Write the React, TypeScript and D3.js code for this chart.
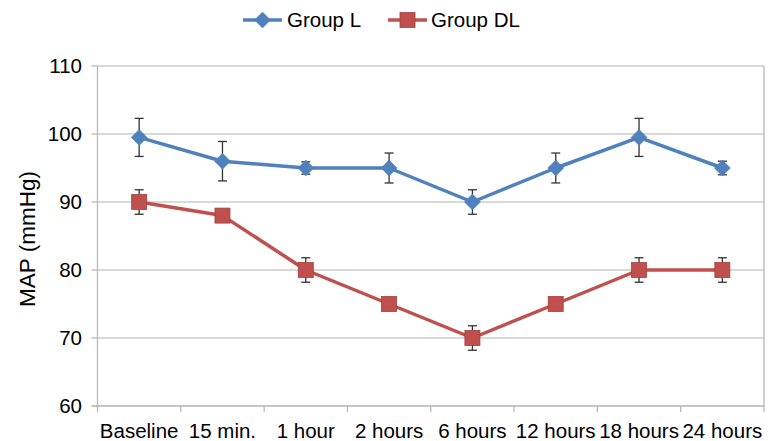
import React from "react";
import * as d3 from "d3";

const categories = ["Baseline", "15 min.", "1 hour", "2 hours", "6 hours", "12 hours", "18 hours", "24 hours"];
const groupL = [99.5, 96, 95, 95, 90, 95, 99.5, 95];
const groupLErr = [2.8, 2.9, 0.9, 2.2, 1.8, 2.2, 2.8, 1.0];
const groupDL = [90, 88, 80, 75, 70, 75, 80, 80];
const groupDLErr = [1.8, 0, 1.8, 0.8, 1.8, 0.8, 1.8, 1.8];
const yTicks = [60, 70, 80, 90, 100, 110];

const W = 768, H = 441;
const left = 97.5, right = 764, top = 66, bottom = 406;
const font = "Arimo, 'Liberation Sans', Arial, sans-serif";

export default function App() {
  const x = d3.scaleBand<string>().domain(categories).range([left, right]).padding(0);
  const y = d3.scaleLinear().domain([60, 110]).range([bottom, top]);
  const cx = (c: string) => (x(c) as number) + x.bandwidth() / 2;
  const line = d3.line<number>().x((_, i) => cx(categories[i])).y((d) => y(d));

  const blue = "#4f81bd";
  const red = "#c0504d";
  const grid = "#b3b3b3";
  const errC = "#333333";

  const errBars = (vals: number[], errs: number[]) =>
    vals.map((v, i) =>
      errs[i] > 0 ? (
        <g key={i} stroke={errC} strokeWidth={1.3}>
          <line x1={cx(categories[i])} x2={cx(categories[i])} y1={y(v + errs[i])} y2={y(v - errs[i])} />
          <line x1={cx(categories[i]) - 4.5} x2={cx(categories[i]) + 4.5} y1={y(v + errs[i])} y2={y(v + errs[i])} />
          <line x1={cx(categories[i]) - 4.5} x2={cx(categories[i]) + 4.5} y1={y(v - errs[i])} y2={y(v - errs[i])} />
        </g>
      ) : null
    );

  const diamond = (px: number, py: number, k: string | number) => (
    <path key={k} d={`M${px},${py - 8}L${px + 8},${py}L${px},${py + 8}L${px - 8},${py}Z`} fill={blue} stroke={blue} strokeWidth={0.5} />
  );
  const square = (px: number, py: number, k: string | number) => (
    <rect key={k} x={px - 7.5} y={py - 7.5} width={15} height={15} fill={red} stroke="#a6403d" strokeWidth={0.8} />
  );

  return (
    <svg width={W} height={H} style={{ position: "absolute", left: 0, top: 0, background: "#fff" }} fontFamily={font}>
      {yTicks.map((t) => (
        <line key={t} x1={left} x2={right} y1={y(t)} y2={y(t)} stroke={grid} strokeWidth={1.2} />
      ))}
      <line x1={right} x2={right} y1={top} y2={bottom} stroke={grid} strokeWidth={1.2} />
      <line x1={left} x2={left} y1={top} y2={bottom + 6} stroke={grid} strokeWidth={1.2} />
      <line x1={left - 6} x2={right} y1={bottom} y2={bottom} stroke={grid} strokeWidth={1.2} />
      {yTicks.map((t) => (
        <g key={t}>
          <line x1={left - 6} x2={left} y1={y(t)} y2={y(t)} stroke={grid} strokeWidth={1.2} />
          <text x={82} y={y(t)} dy="0.36em" textAnchor="end" fontSize={20.5} fill="#000">{t}</text>
        </g>
      ))}
      {categories.map((c) => (
        <line key={c} x1={(x(c) as number) + x.bandwidth()} x2={(x(c) as number) + x.bandwidth()} y1={bottom} y2={bottom + 6} stroke={grid} strokeWidth={1.2} />
      ))}
      {categories.map((c) => (
        <text key={c} x={cx(c)} y={438} textAnchor="middle" fontSize={20.5} fill="#000">{c}</text>
      ))}
      <text transform={`translate(${35},${239}) rotate(-90)`} textAnchor="middle" fontSize={22.5} fill="#000">MAP (mmHg)</text>

      {errBars(groupL, groupLErr)}
      {errBars(groupDL, groupDLErr)}

      <path d={line(groupL) || ""} fill="none" stroke={blue} strokeWidth={3.5} strokeLinejoin="round" />
      <path d={line(groupDL) || ""} fill="none" stroke={red} strokeWidth={3.5} strokeLinejoin="round" />
      {groupL.map((v, i) => diamond(cx(categories[i]), y(v), i))}
      {groupDL.map((v, i) => square(cx(categories[i]), y(v), i))}

      <g>
        <line x1={243} x2={282} y1={20} y2={20} stroke={blue} strokeWidth={3.5} />
        {diamond(262.5, 20, "ld")}
        <text x={287} y={20} dy="0.36em" fontSize={20.5} fill="#000">Group L</text>
        <line x1={388} x2={427} y1={20} y2={20} stroke={red} strokeWidth={3.5} />
        {square(407.5, 20, "ls")}
        <text x={431} y={20} dy="0.36em" fontSize={20.5} fill="#000">Group DL</text>
      </g>
    </svg>
  );
}
